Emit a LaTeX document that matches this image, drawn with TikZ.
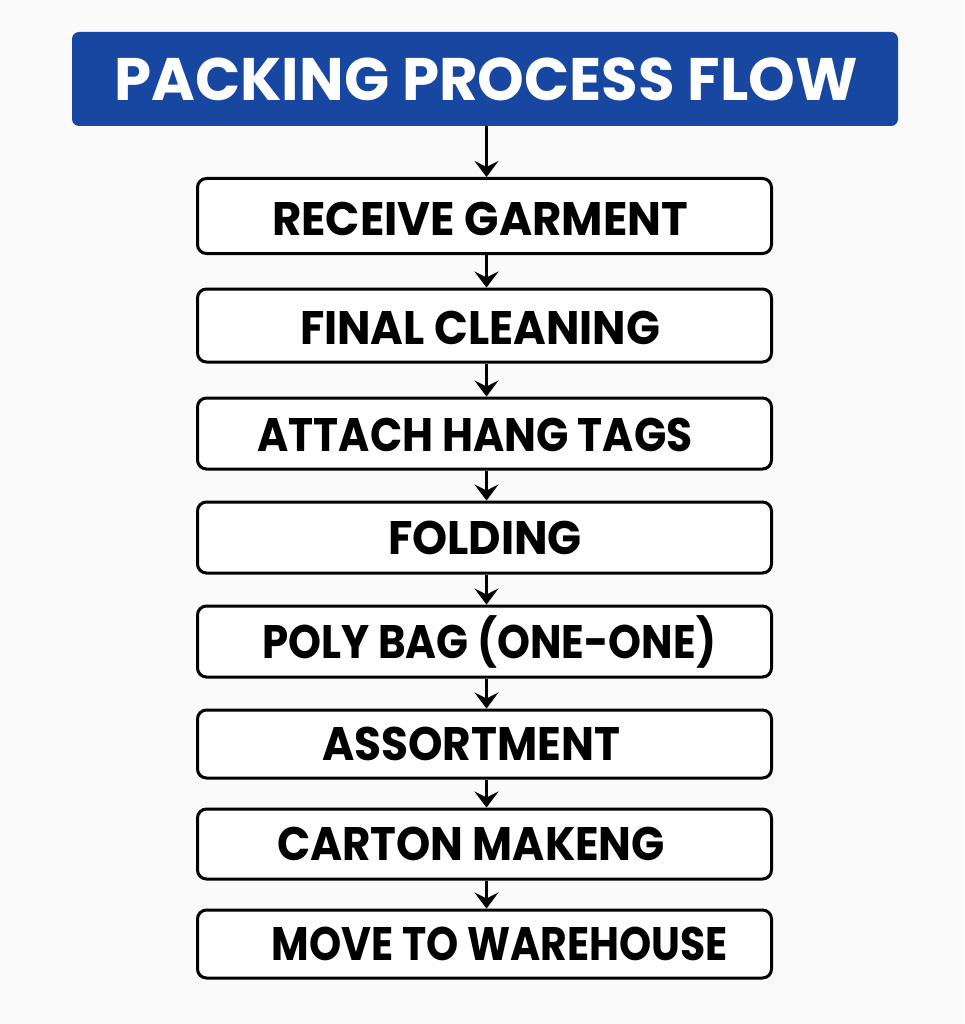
\documentclass[tikz,border=0pt]{standalone}
\usepackage{fontspec}
\setmainfont{Poppins}
\usetikzlibrary{arrows.meta}
\definecolor{titleblue}{HTML}{1747A0}
\definecolor{bg}{HTML}{FAFAFA}
\newcommand{\fitw}[2]{\resizebox{#1}{\height}{#2}}
\begin{document}
\begin{tikzpicture}[x=1pt,y=-1pt,
  stepbox/.style={draw=black, line width=3pt, rounded corners=9pt, fill=white,
    minimum width=574pt, inner sep=0pt},
  lbl/.style={inner sep=0pt, font=\fontsize{47}{47}\selectfont\bfseries, text=black},
  conn/.style={line width=2.4pt, -{Stealth[length=16pt,width=24pt,inset=6pt]}}
]
\fill[bg] (0,0) rectangle (964,1024);
\useasboundingbox (0,0) rectangle (964,1024);

\node[fill=titleblue, rounded corners=7pt, minimum width=826pt, minimum height=94pt, inner sep=0pt] (title) at (485,79) {};
\node[inner sep=0pt, font=\fontsize{60}{60}\selectfont\bfseries, text=white] (ttl) at (486,79) {\fitw{743pt}{PACKING PROCESS FLOW}};

\node[stepbox, minimum height=75pt] (b1) at (484.5,216) {};
\node[stepbox, minimum height=73pt] (b2) at (484.5,325.5) {};
\node[stepbox, minimum height=71pt] (b3) at (484.5,433.5) {};
\node[stepbox, minimum height=71pt] (b4) at (484.5,537.5) {};
\node[stepbox, minimum height=71pt] (b5) at (484.5,641.5) {};
\node[stepbox, minimum height=68pt] (b6) at (484.5,744) {};
\node[stepbox, minimum height=70pt] (b7) at (484.5,844) {};
\node[stepbox, minimum height=68pt] (b8) at (484.5,944) {};

\node[lbl] (t1) at (480,219) {\fitw{416pt}{RECEIVE GARMENT}};
\node[lbl] (t2) at (480,328) {\fitw{360pt}{FINAL CLEANING}};
\node[lbl] (t3) at (475,435) {\fitw{435pt}{ATTACH HANG TAGS}};
\node[lbl] (t4) at (485,538) {\fitw{194pt}{FOLDING}};
\node[lbl] (t5) at (489,642) {\fitw{454pt}{POLY BAG (ONE-ONE)}};
\node[lbl] (t6) at (471,744) {\fitw{298pt}{ASSORTMENT}};
\node[lbl] (t7) at (471,844) {\fitw{388pt}{CARTON MAKENG}};
\node[lbl] (t8) at (500,944) {\fitw{456pt}{MOVE TO WAREHOUSE}};

\draw[conn] (title.south -| 486.5,0) -- (b1.north -| 486.5,0);
\draw[conn] (b1.south -| 486.5,0) -- (b2.north -| 486.5,0);
\draw[conn] (b2.south -| 486.5,0) -- (b3.north -| 486.5,0);
\draw[conn] (b3.south -| 486.5,0) -- (b4.north -| 486.5,0);
\draw[conn] (b4.south -| 486.5,0) -- (b5.north -| 486.5,0);
\draw[conn] (b5.south -| 486.5,0) -- (b6.north -| 486.5,0);
\draw[conn] (b6.south -| 486.5,0) -- (b7.north -| 486.5,0);
\draw[conn] (b7.south -| 486.5,0) -- (b8.north -| 486.5,0);
\end{tikzpicture}
\end{document}
